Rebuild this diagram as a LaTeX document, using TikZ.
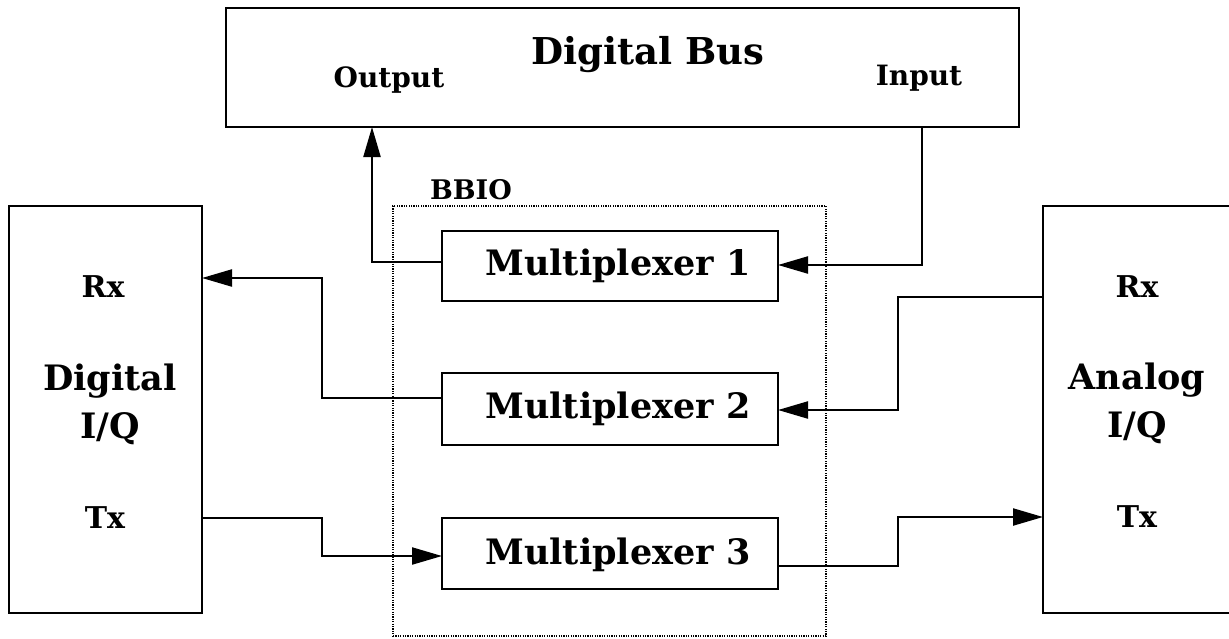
\documentclass[tikz,border=0pt]{standalone}
\usepackage{fontspec}
\setmainfont{DejaVu Serif}
\usetikzlibrary{arrows.meta}
\tikzset{
  box/.style={draw, line width=2.2pt, inner sep=0pt},
  dotbox/.style={draw, line width=1.1pt, dash pattern=on 1.2pt off 1.2pt},
  wire/.style={line width=2.2pt},
  arr/.style={wire, -{Triangle[length=30pt,width=17pt]}},
  big/.style={font=\fontsize{35}{48}\selectfont\bfseries},
  huge/.style={font=\fontsize{37}{44}\selectfont\bfseries},
  mid/.style={font=\fontsize{28}{32}\selectfont\bfseries},
  rxtx/.style={font=\fontsize{30}{34}\selectfont\bfseries},
  sml/.style={font=\fontsize{27}{30}\selectfont\bfseries},
}
\begin{document}
\begin{tikzpicture}[x=1pt,y=-1pt]
\useasboundingbox (0,0) rectangle (1229,638);
% boxes
\node[box, minimum width=793pt, minimum height=119pt] (bus) at (622.5,67.5) {};
\node[box, minimum width=193pt, minimum height=407pt] (dig) at (105.5,409.5) {};
\node[box, minimum width=194pt, minimum height=407pt] (ana) at (1140,409.5) {};
\node[dotbox, minimum width=433pt, minimum height=430pt] (bbio) at (609.5,421) {};
\node[box, minimum width=336pt, minimum height=70pt] (mux1) at (610,266) {};
\node[box, minimum width=336pt, minimum height=72pt] (mux2) at (610,409) {};
\node[box, minimum width=336pt, minimum height=71pt] (mux3) at (610,553.5) {};
% labels
\node[huge] (buslbl) at (648,55) {Digital Bus};
\node[mid] (outlbl) at (389,80) {Output};
\node[mid] (inlbl) at (919,78) {Input};
\node[sml] (bbiolbl) at (471,190) {BBIO};
\node[big] (m1) at (618,266) {Multiplexer 1};
\node[big] (m2) at (618,409) {Multiplexer 2};
\node[big] (m3) at (618,555) {Multiplexer 3};
\node[rxtx] (drx) at (103,287) {Rx};
\node[big, align=center] (dlbl) at (110,404) {Digital\\I/Q};
\node[rxtx] (dtx) at (105,518) {Tx};
\node[rxtx] (arx) at (1137,287) {Rx};
\node[big, align=center] (albl) at (1137,403) {Analog\\I/Q};
\node[rxtx] (atx) at (1137,517) {Tx};
% connector endpoints
\coordinate (outpin) at (372,127);
\coordinate (inpin) at (922,127);
\coordinate (m1w) at (442,262);
\coordinate (m1e) at (778,265);
\coordinate (m2w) at (442,398);
\coordinate (m2e) at (778,410);
\coordinate (m3w) at (442,556);
\coordinate (m3e) at (778,566);
\coordinate (drxp) at (202,278);
\coordinate (dtxp) at (202,518);
\coordinate (arxp) at (1043,297);
\coordinate (atxp) at (1043,517);
% connectors
\draw[arr] (m1w) -| (outpin);
\draw[arr] (inpin) |- (m1e);
\draw[arr] (m2w) -- (322,398) |- (drxp);
\draw[arr] (dtxp) -- (322,518) |- (m3w);
\draw[arr] (arxp) -- (898,297) |- (m2e);
\draw[arr] (m3e) -- (898,566) |- (atxp);
\end{tikzpicture}
\end{document}
